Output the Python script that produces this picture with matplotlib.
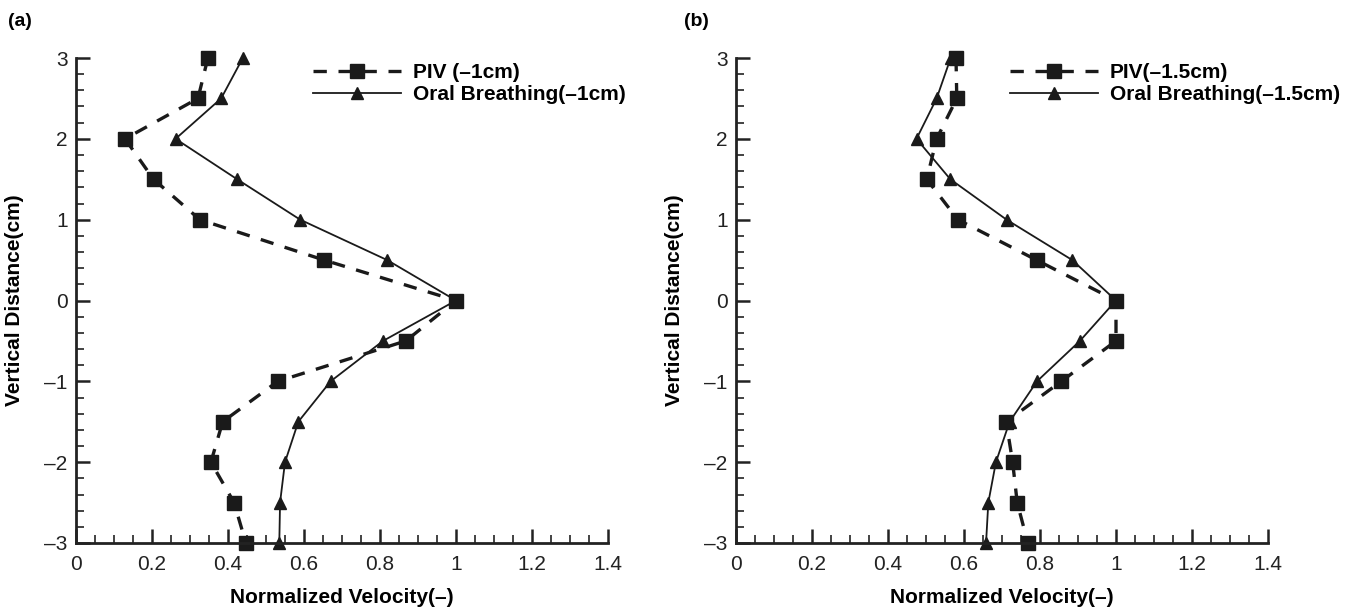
import numpy as np
import matplotlib
matplotlib.use('Agg')
import matplotlib.pyplot as plt
from matplotlib.ticker import MultipleLocator

plt.rcParams['font.family'] = ['Liberation Sans', 'DejaVu Sans']

# vertical positions (cm)
y = [3, 2.5, 2, 1.5, 1, 0.5, 0, -0.5, -1, -1.5, -2, -2.5, -3]

# panel (a) -1cm
piv_a = [0.347, 0.321, 0.129, 0.204, 0.326, 0.653, 1.0, 0.868, 0.531, 0.386, 0.355, 0.416, 0.447]
oral_a = [0.439, 0.382, 0.262, 0.424, 0.590, 0.819, 1.0, 0.808, 0.670, 0.585, 0.550, 0.537, 0.535]

# panel (b) -1.5cm
piv_b = [0.579, 0.581, 0.528, 0.502, 0.584, 0.791, 1.0, 1.0, 0.856, 0.711, 0.728, 0.740, 0.768]
oral_b = [0.565, 0.528, 0.475, 0.564, 0.712, 0.885, 1.0, 0.905, 0.792, 0.720, 0.684, 0.664, 0.658]

panels = [
    ('(a)', piv_a, oral_a, 'PIV (\u20131cm)', 'Oral Breathing(\u20131cm)'),
    ('(b)', piv_b, oral_b, 'PIV(\u20131.5cm)', 'Oral Breathing(\u20131.5cm)'),
]

W, H = 1355, 610
fig = plt.figure(figsize=(W/100, H/100), dpi=100)
lefts = [76, 736];   # spine position, px
legx = [313, 1010];  # legend handle start, px
tagx = [8, 684];
aw = 532;
bottom = 1 - 543/H;
height = 485/H;

def fmt(v, pos):
    return ('%g' % v).replace('-', '\u2013')

for k, (tag, piv, oral, lab1, lab2) in enumerate(panels):
    ax = fig.add_axes([lefts[k]/W, bottom, aw/W, height])
    ax.plot(piv, y, color='#1a1a1a', lw=2.4, ls=(0, (4.0, 3.5)),
            marker='s', ms=9.5, label=lab1, clip_on=False)
    ax.plot(oral, y, color='#1a1a1a', lw=1.3, ls='-',
            marker='^', ms=9, label=lab2, clip_on=False)

    ax.set_xlim(0, 1.4)
    ax.set_ylim(-3, 3)
    ax.spines['top'].set_visible(False)
    ax.spines['right'].set_visible(False)
    for sp in ('left', 'bottom'):
        ax.spines[sp].set_linewidth(2.0)
        ax.spines[sp].set_color('#222222')

    ax.xaxis.set_major_locator(MultipleLocator(0.2))
    ax.xaxis.set_minor_locator(MultipleLocator(0.05))
    ax.yaxis.set_major_locator(MultipleLocator(1))
    ax.yaxis.set_minor_locator(MultipleLocator(0.2))
    ax.xaxis.set_major_formatter(plt.FuncFormatter(fmt))
    ax.yaxis.set_major_formatter(plt.FuncFormatter(fmt))
    ax.tick_params(which='major', direction='in', length=10, width=1.8,
                   labelsize=15, colors='#222222')
    ax.tick_params(axis='x', which='major', pad=8.5)
    ax.tick_params(axis='y', which='major', pad=6)
    ax.tick_params(which='minor', direction='in', length=5.5, width=1.2,
                   colors='#222222')

    ax.set_xlabel('Normalized Velocity(\u2013)', fontsize=15, fontweight='bold')
    ax.xaxis.set_label_coords(0.5, -0.092)
    ax.set_ylabel('Vertical Distance(cm)', fontsize=15, fontweight='bold')
    ax.yaxis.set_label_coords(-52/aw, 0.5)

    ax.legend(loc='upper left', bbox_to_anchor=(legx[k]/W, 1 - 63/H),
              bbox_transform=fig.transFigure, borderaxespad=0, borderpad=0,
              frameon=False, handlelength=4.2, handletextpad=0.6,
              labelspacing=0.15, prop={'weight': 'bold', 'size': 15})

    fig.text(tagx[k]/W, 1 - 22/H, tag, fontsize=14, fontweight='bold',
             va='center', ha='left')

fig.savefig('out.png', dpi=100)
